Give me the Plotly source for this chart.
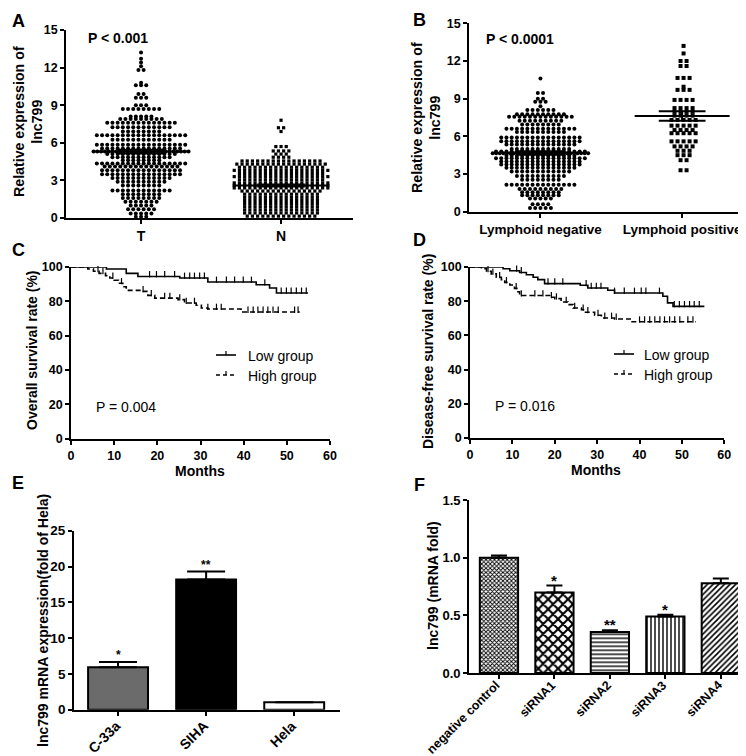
import numpy as np
import plotly.graph_objects as go

W, H = 746, 756
FONT = "Liberation Sans"


def px(x):
    return x / W


def py(y):
    return 1 - y / H


# ---------------- DATA ----------------
# Panel A: dot-plot rows (value level, number of points on that level)
A_categories = ["T", "N"]
A_T_levels = [13.2, 12.7, 12.4, 12.1, 11.8, 10.8, 10.6, 9.9, 9.6, 9.0, 8.7, 8.1, 7.9, 7.6, 7.25, 6.9,
              6.6, 6.25, 5.85, 5.55, 5.3, 5.1, 4.85, 4.6, 4.35, 4.1, 3.8, 3.5, 3.2, 2.9, 2.6, 2.2,
              1.9, 1.6, 1.3, 1.0, 0.7, 0.35, 0.1]
A_T_counts = [1, 1, 1, 1, 2, 1, 3, 2, 3, 3, 8, 5, 9, 14, 12, 8,
              18, 12, 18, 16, 26, 14, 12, 8, 18, 15, 16, 16, 12, 10, 8, 12,
              8, 8, 7, 5, 6, 5, 3]
A_N_levels = [7.8, 7.2, 6.9, 5.7, 5.35, 5.1, 4.85, 4.55, 4.3, 4.05, 3.8, 3.55, 3.3, 3.05, 2.8,
              2.6, 2.4, 2.15, 1.9, 1.65, 1.4, 1.15, 0.9, 0.65, 0.4, 0.15]
A_N_counts = [1, 2, 1, 3, 4, 3, 4, 16, 18, 17, 19, 17, 19, 17, 19,
              19, 19, 16, 15, 15, 15, 15, 15, 15, 15, 14]
A_means = [5.3, 2.6]
A_sems = [0.15, 0.08]

# Panel B
B_categories = ["Lymphoid negative", "Lymphoid positive"]
B_neg_levels = [10.6, 9.45, 9.0, 8.75, 8.4, 8.1, 7.75, 7.55, 7.25, 6.95, 6.6, 6.35, 5.9, 5.6, 5.35,
                5.0, 4.8, 4.65, 4.45, 4.25, 4.0, 3.75, 3.5, 3.2, 2.85, 2.55, 2.15, 1.8, 1.55, 1.3,
                1.05, 0.6, 0.3]
B_neg_counts = [1, 2, 2, 3, 1, 6, 10, 13, 9, 8, 14, 10, 16, 16, 14,
                12, 18, 28, 14, 18, 16, 16, 14, 12, 10, 8, 14, 9, 8, 8,
                5, 4, 5]
B_pos_levels = [13.2, 12.6, 12.0, 11.6, 10.65, 9.95, 9.7, 8.9, 8.25, 7.95, 7.65, 7.3, 6.85, 6.5,
                6.25, 5.6, 5.2, 4.85, 4.5, 4.1, 3.3]
B_pos_counts = [1, 1, 2, 2, 3, 1, 3, 4, 4, 4, 4, 5, 5, 4, 5, 5, 4, 3, 3, 2, 2]
B_means = [4.67, 7.62]
B_sems = [0.14, 0.37]

# Panel C: Kaplan-Meier overall survival (event times, survival %, censor times)
C_low_t = [0, 8.2, 12.8, 15.5, 25.2, 31.7, 42.9, 46.0, 47.6]
C_low_s = [100, 98.8, 96.3, 94.5, 93.6, 91.3, 89.7, 87.8, 84.9]
C_low_end = 54.9
C_low_cens = [2.0, 10.9, 12.0, 18.2, 19.8, 21.7, 24.0, 26.3, 27.5, 28.6, 29.8, 30.9, 33.7, 36.0,
              37.9, 39.9, 41.8, 44.9, 48.7, 49.9, 51.0, 52.2, 53.4, 54.5]
C_high_t = [0, 3.9, 5.2, 6.5, 8.0, 9.0, 10.0, 11.0, 12.0, 12.8, 16.3, 17.8, 19.4, 24.8, 26.3,
            29.0, 30.2, 31.7, 39.4]
C_high_s = [100, 98.8, 97.5, 96.3, 95.0, 93.6, 92.3, 90.5, 88.5, 86.4, 85.8, 83.5, 81.9, 81.0,
            79.0, 77.7, 76.1, 75.5, 73.8]
C_high_end = 53.0
C_high_cens = [4.7, 6.25, 7.4, 9.7, 11.7, 16.7, 18.6, 21.7, 22.9, 25.2, 26.7, 28.6, 31.7, 33.7,
               34.8, 41.0, 42.2, 43.3, 44.5, 45.6, 46.8, 48.0, 51.8, 52.6]

# Panel D: Kaplan-Meier disease-free survival
D_low_t = [0, 7.8, 9.4, 11.7, 13.3, 14.9, 16.0, 17.6, 26.0, 27.8, 32.5, 34.1, 45.5, 46.6, 47.9]
D_low_s = [100, 99.0, 97.8, 96.8, 95.5, 94.0, 92.6, 90.3, 89.3, 87.7, 86.4, 84.8, 82.9, 79.0, 77.0]
D_low_end = 55.3
D_low_cens = [2.3, 8.2, 11.0, 12.1, 18.4, 20.0, 21.9, 27.4, 28.6, 29.8, 30.9, 34.1, 36.4, 38.8,
              40.4, 41.5, 44.7, 48.2, 49.4, 50.6, 51.8, 52.9, 54.1]
D_high_t = [0, 2.7, 3.9, 5.0, 6.2, 7.4, 8.2, 9.4, 10.5, 11.3, 11.7, 18.8, 20.0, 21.5, 23.1, 24.3,
            26.3, 27.0, 29.4, 31.0, 34.1, 38.0]
D_high_s = [100, 99.0, 97.5, 96.0, 94.0, 92.6, 91.0, 89.5, 87.5, 85.5, 83.3, 82.3, 81.5, 79.5,
            78.0, 76.0, 75.0, 73.5, 71.8, 70.2, 69.6, 68.0]
D_high_end = 53.3
D_high_cens = [4.25, 5.4, 7.0, 8.6, 10.9, 12.1, 15.3, 17.2, 19.2, 20.4, 22.7, 24.7, 26.7, 27.8,
               30.2, 31.8, 33.4, 34.5, 40.0, 41.2, 42.4, 43.6, 44.8, 45.9, 47.1, 48.3, 49.5,
               51.4, 52.6]

# Panel E
E_categories = ["C-33a", "SIHA", "Hela"]
E_values = [5.92, 18.2, 1.03]
E_errors = [0.75, 1.1, 0.0]
E_stars = ["*", "**", ""]

# Panel F
F_categories = ["negative control", "siRNA1", "siRNA2", "siRNA3", "siRNA4"]
F_values = [1.0, 0.70, 0.356, 0.49, 0.78]
F_errors = [0.02, 0.06, 0.015, 0.016, 0.04]
F_stars = ["", "*", "**", "*", ""]

# ---------------- HELPERS ----------------
fig = go.Figure()


def swarm(levels, counts, center, step, maxw):
    xs, ys = [], []
    for v, n in zip(levels, counts):
        s = step if n <= 1 else min(step, maxw / (n - 1))
        for i in range(n):
            xs.append(center + (i - (n - 1) / 2) * s)
            ys.append(v)
    return xs, ys


def add_mean_sem(xa, ya, centers, means, sems, half_mean, half_sem):
    xs, ys = [], []
    for c, m, s in zip(centers, means, sems):
        xs += [c - half_mean, c + half_mean, None, c, c, None,
               c - half_sem, c + half_sem, None, c - half_sem, c + half_sem, None]
        ys += [m, m, None, m - s, m + s, None, m - s, m - s, None, m + s, m + s, None]
    fig.add_trace(go.Scatter(x=xs, y=ys, mode="lines", line=dict(color="black", width=2),
                             xaxis=xa, yaxis=ya, showlegend=False, hoverinfo="skip"))


def step_at(ts, ss, t):
    idx = int(np.searchsorted(np.array(ts), t, side="right")) - 1
    return ss[max(idx, 0)]


def add_km(xa, ya, t, s, end, cens, dash):
    fig.add_trace(go.Scatter(x=list(t) + [end], y=list(s) + [s[-1]], mode="lines",
                             line=dict(shape="hv", color="black", width=1.6, dash=dash),
                             xaxis=xa, yaxis=ya, cliponaxis=False, showlegend=False))
    cy = [step_at(t, s, c) + 1.3 for c in cens]
    fig.add_trace(go.Scatter(x=cens, y=cy, mode="markers",
                             marker=dict(symbol="line-ns-open", size=4.5, color="black",
                                         line=dict(color="black", width=1.2)),
                             xaxis=xa, yaxis=ya, cliponaxis=False, showlegend=False))


# ---------------- PANEL A ----------------
dotA = 5.2 / 140
x, y = swarm(A_T_levels, A_T_counts, 0, dotA, 95 / 140)
fig.add_trace(go.Scatter(x=x, y=y, mode="markers", marker=dict(symbol="circle", size=4.0, color="black"),
                         xaxis="x", yaxis="y", cliponaxis=False, showlegend=False))
x, y = swarm(A_N_levels, A_N_counts, 1, dotA, 95 / 140)
fig.add_trace(go.Scatter(x=x, y=y, mode="markers", marker=dict(symbol="square", size=3.2, color="black"),
                         xaxis="x", yaxis="y", cliponaxis=False, showlegend=False))
add_mean_sem("x", "y", [0, 1], A_means, A_sems, 0.345, 0.17)

# ---------------- PANEL B ----------------
dotB = 5.2 / 141
x, y = swarm(B_neg_levels, B_neg_counts, 0, dotB, 95 / 141)
fig.add_trace(go.Scatter(x=x, y=y, mode="markers", marker=dict(symbol="circle", size=4.0, color="black"),
                         xaxis="x2", yaxis="y2", cliponaxis=False, showlegend=False))
x, y = swarm(B_pos_levels, B_pos_counts, 1.01, 6 / 141, 40 / 141)
fig.add_trace(go.Scatter(x=x, y=y, mode="markers", marker=dict(symbol="square", size=4.0, color="black"),
                         xaxis="x2", yaxis="y2", cliponaxis=False, showlegend=False))
add_mean_sem("x2", "y2", [0, 1], B_means, B_sems, 0.335, 0.165)

# ---------------- PANELS C, D ----------------
add_km("x3", "y3", C_low_t, C_low_s, C_low_end, C_low_cens, "solid")
add_km("x3", "y3", C_high_t, C_high_s, C_high_end, C_high_cens, "5px,3px")
add_km("x4", "y4", D_low_t, D_low_s, D_low_end, D_low_cens, "solid")
add_km("x4", "y4", D_high_t, D_high_s, D_high_end, D_high_cens, "5px,3px")

# ---------------- PANEL E ----------------
fig.add_trace(go.Bar(x=list(range(len(E_categories))), y=E_values, width=0.68,
                     marker=dict(color=["#6b6b6b", "#000000", "#ffffff"], line=dict(color="black", width=2)),
                     error_y=dict(type="data", symmetric=False, array=E_errors,
                                  arrayminus=[0] * len(E_values), color="black", thickness=2, width=19),
                     xaxis="x5", yaxis="y5", showlegend=False))

# ---------------- PANEL F ----------------
fig.add_trace(go.Bar(x=list(range(len(F_categories))), y=F_values, width=0.69,
                     marker=dict(color="white", line=dict(color="black", width=2),
                                 pattern=dict(shape=["x", "x", "-", "|", "/"],
                                              size=[3, 7, 4, 4, 4],
                                              solidity=[0.5, 0.5, 0.35, 0.35, 0.4],
                                              fgcolor="black", bgcolor="white")),
                     error_y=dict(type="data", symmetric=False, array=F_errors,
                                  arrayminus=[0] * len(F_values), color="black", thickness=2, width=8),
                     xaxis="x6", yaxis="y6", showlegend=False))


# ---------------- AXES ----------------
def ax(**kw):
    d = dict(showline=True, linecolor="black", linewidth=1.8, ticks="outside", ticklen=4,
             tickwidth=1.8, tickcolor="black", showgrid=False, zeroline=False, fixedrange=True,
             automargin=False,
             tickfont=dict(family=FONT, size=12.5, color="black", weight="bold"))
    d.update(kw)
    return d


bold = lambda s: dict(family=FONT, size=s, color="black", weight="bold")

fig.update_layout(
    template="none",
    width=W, height=H, margin=dict(l=0, r=0, t=0, b=0, pad=0, autoexpand=False),
    plot_bgcolor="white", paper_bgcolor="white", showlegend=False,
    xaxis=ax(domain=[px(58), px(345)], range=[-0.536, 1.514], anchor="y",
             tickvals=[0, 1], ticktext=A_categories, tickfont=bold(14)),
    yaxis=ax(domain=[py(210), py(22)], range=[0, 15], anchor="x", tickvals=[0, 3, 6, 9, 12, 15],
             tickfont=bold(12.5)),
    xaxis2=ax(domain=[px(461), px(745)], range=[-0.504, 1.5], anchor="y2",
              tickvals=[0, 1], ticktext=B_categories, tickfont=bold(13.5)),
    yaxis2=ax(domain=[py(203.7), py(15.3)], range=[0, 15], anchor="x2", tickvals=[0, 3, 6, 9, 12, 15],
              tickfont=bold(12.5)),
    xaxis3=ax(domain=[px(63), px(322)], range=[0, 60], anchor="y3", tickvals=list(range(0, 61, 10))),
    yaxis3=ax(domain=[py(430.7), py(259)], range=[0, 100], anchor="x3", tickvals=list(range(0, 101, 20))),
    xaxis4=ax(domain=[px(462), px(716.3)], range=[0, 60], anchor="y4", tickvals=list(range(0, 61, 10))),
    yaxis4=ax(domain=[py(430), py(259)], range=[0, 100], anchor="x4", tickvals=list(range(0, 101, 20))),
    xaxis5=ax(domain=[px(66), px(332)], range=[-0.5, 2.52], anchor="y5",
              tickvals=list(range(len(E_categories))), showticklabels=False),
    yaxis5=ax(domain=[py(701.7), py(522.7)], range=[0, 25], anchor="x5", tickvals=[0, 5, 10, 15, 20, 25],
              tickfont=bold(13.5)),
    xaxis6=ax(domain=[px(461), px(740)], range=[-0.54, 4.49], anchor="y6",
              tickvals=list(range(len(F_categories))), showticklabels=False),
    yaxis6=ax(domain=[py(665), py(492.3)], range=[0, 1.5], anchor="x6", tickvals=[0, 0.5, 1.0, 1.5],
              tickformat=".1f", tickfont=bold(13)),
)

# ---------------- TEXT ----------------
ann = []


def paper_text(x, y, text, font, angle=0, xanchor="center", yanchor="middle"):
    ann.append(dict(x=px(x), y=py(y), xref="paper", yref="paper", text=text, showarrow=False,
                    font=font, textangle=angle, xanchor=xanchor, yanchor=yanchor))


for letter, (lx, ly) in zip("ABCDEF", [(10, 13), (411, 12), (10, 242), (411, 232), (10, 475), (411, 477)]):
    paper_text(lx, ly, letter, bold(18))

paper_text(20, 114, "Relative expression of<br>lnc799", bold(14.2), angle=-90)
paper_text(418, 110, "Relative expression of<br>lnc799", bold(14.2), angle=-90)
paper_text(24, 342, "Overall survival rate (%)", bold(14), angle=-90)
paper_text(420, 344, "Disease-free survival rate (%)", bold(14), angle=-90)
paper_text(35, 613, "lnc799 mRNA expression(fold of Hela)", bold(14), angle=-90)
paper_text(425, 578, "lnc799 (mRNA fold)", bold(14), angle=-90)
paper_text(192, 463, "Months", bold(14))
paper_text(588, 462, "Months", bold(14))
paper_text(110, 30, "P < 0.001", bold(14))
paper_text(512, 31, "P < 0.0001", bold(14))
regular = dict(family=FONT, size=14, color="black")
paper_text(86, 399, "P = 0.004", regular, xanchor="left")
paper_text(485, 398, "P = 0.016", regular, xanchor="left")

# rotated category labels for E and F (anchored at their tick positions)
for i, name in enumerate(E_categories):
    ann.append(dict(x=i, y=py(707), xref="x5", yref="paper", text=name, showarrow=False,
                    font=bold(14), textangle=-45, xanchor="right", yanchor="top", xshift=8))
for i, name in enumerate(F_categories):
    ann.append(dict(x=i, y=py(667), xref="x6", yref="paper", text=name, showarrow=False,
                    font=bold(12.5), textangle=-45, xanchor="right", yanchor="top", xshift=7))

shapes = []


def legend_glyph(x0, x1, yy, dash):
    shapes.append(dict(type="line", xref="paper", yref="paper", x0=px(x0), x1=px(x1), y0=py(yy), y1=py(yy),
                       line=dict(color="black", width=1.6, dash=dash)))
    xm = (x0 + x1) / 2
    shapes.append(dict(type="line", xref="paper", yref="paper", x0=px(xm), x1=px(xm), y0=py(yy), y1=py(yy - 4),
                       line=dict(color="black", width=1.2)))


legend_glyph(208, 228, 347, "solid")
legend_glyph(208, 228, 367, "4px,3px")
paper_text(238, 348, "Low group", regular, xanchor="left")
paper_text(238, 368, "High group", regular, xanchor="left")
legend_glyph(606, 626, 346, "solid")
legend_glyph(606, 626, 366, "4px,3px")
paper_text(634, 347, "Low group", regular, xanchor="left")
paper_text(634, 367, "High group", regular, xanchor="left")

for i, (v, e, s) in enumerate(zip(E_values, E_errors, E_stars)):
    if s:
        ann.append(dict(x=i, y=v + e, xref="x5", yref="y5", text=s, showarrow=False,
                        font=bold(12), xanchor="center", yanchor="bottom", yshift=-2))
for i, (v, e, s) in enumerate(zip(F_values, F_errors, F_stars)):
    if s:
        ann.append(dict(x=i, y=v + e, xref="x6", yref="y6", text=s, showarrow=False,
                        font=bold(15), xanchor="center", yanchor="bottom", yshift=-5))

fig.update_layout(annotations=ann, shapes=shapes)
fig.write_html("out.html")
